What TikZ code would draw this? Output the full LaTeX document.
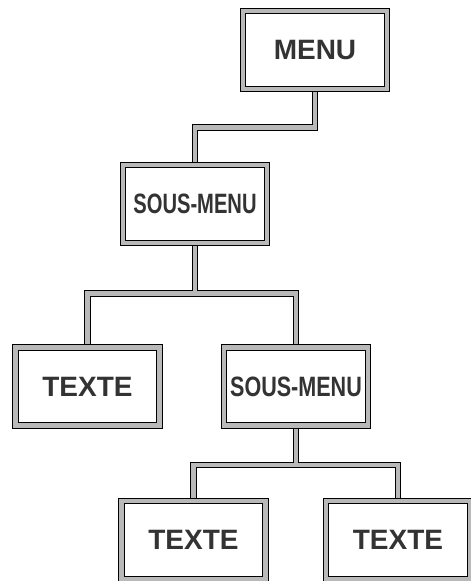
\documentclass[tikz,border=0pt]{standalone}
\usepackage{graphicx}
\usepackage{fontspec}
\setsansfont{Liberation Sans}
\usetikzlibrary{backgrounds}
\newcommand{\narrowlabel}[2]{\scalebox{#1}[1]{#2}}

\begin{document}
\begin{tikzpicture}[
  x=1pt, y=-1pt,
  menubox/.style={draw=black, line width=1pt, double=gray!55,
                  double distance=4.5pt, fill=white, minimum width=144pt,
                  minimum height=78pt, inner sep=0pt, text=gray!40!black,
                  font=\fontsize{28}{30}\selectfont\sffamily\bfseries},
  link/.style={draw=black, line width=1pt, double=gray!55,
               double distance=4.5pt}
]
\useasboundingbox (0,0) rectangle (471,581);
% boxes
\node[menubox] (menu)   at (315,50)    {MENU};
\node[menubox] (sous1)  at (195,204)   {\narrowlabel{0.72}{SOUS-MENU}};
\node[menubox] (texte1) at (87.5,386.5) {TEXTE};
\node[menubox] (sous2)  at (296,386.5) {\narrowlabel{0.77}{SOUS-MENU}};
\node[menubox] (texte2) at (193.5,540) {TEXTE};
\node[menubox] (texte3) at (398,540)   {TEXTE};
% connectors
\begin{pgfonlayer}{background}
\draw[link] (menu.south) -- ++(0,38) -| (sous1.north);
\draw[link] (sous1.south) -- ++(0,50) -| (texte1.north)
            (sous1.south) -- ++(0,50) -| (sous2.north);
\draw[link] (sous2.south) -- ++(0,39) -| (texte2.north)
            (sous2.south) -- ++(0,39) -| (texte3.north);
\end{pgfonlayer}
\end{tikzpicture}
\end{document}
